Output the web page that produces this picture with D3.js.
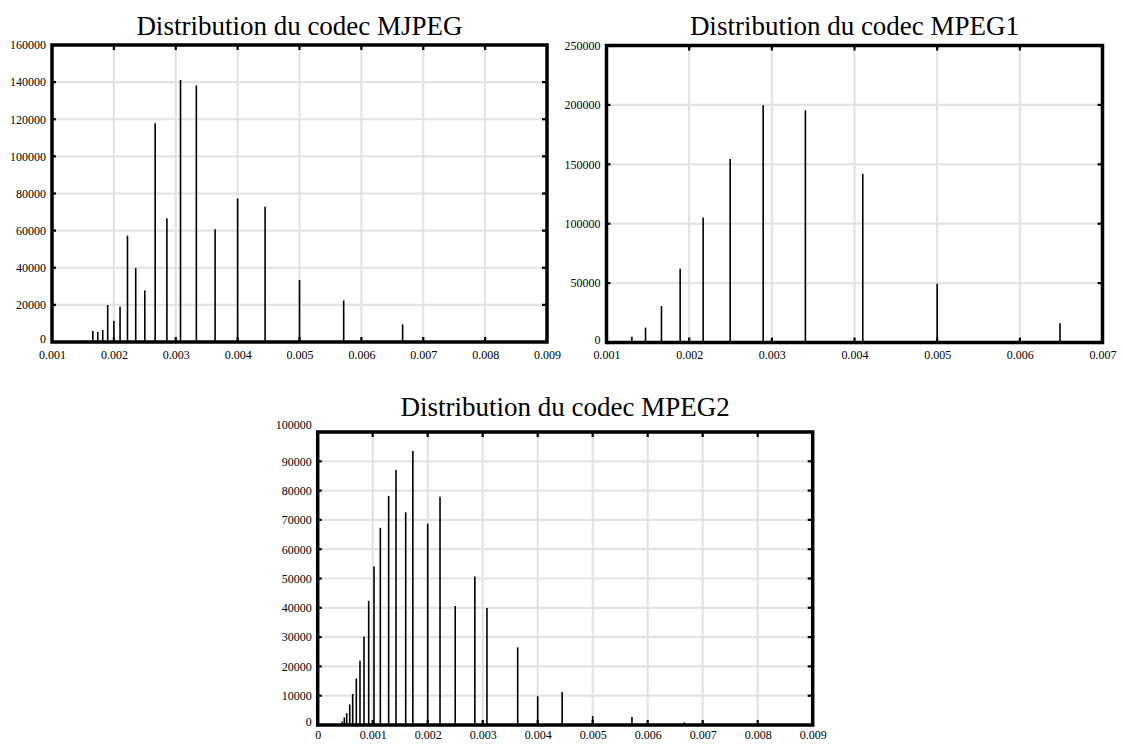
<!DOCTYPE html>
<html><head><meta charset="utf-8">
<script src="https://cdn.jsdelivr.net/npm/d3@7"></script>
<style>
body{margin:0;background:#fff}
svg{display:block}
text{font-family:"Liberation Serif","Times New Roman",serif;fill:#000}
</style>
</head><body>
<svg id="c" width="1122" height="744"></svg>
<script>
// ---------- data ----------
const titleMJPEG = "Distribution du codec MJPEG";
const titleMPEG1 = "Distribution du codec MPEG1";
const titleMPEG2 = "Distribution du codec MPEG2";

const mjpegX = [0.001538,0.00159,0.00166,0.00174,0.00182,0.0019,0.002,0.0021,0.00222,0.002353,0.0025,0.002667,0.002857,0.003077,0.003333,0.003636,0.004,0.004444,0.005,0.005714,0.006667];
const mjpegY = [900,500,5900,5400,6500,19900,11500,19000,57300,39900,27700,117800,66600,141200,138200,60800,77300,72800,33400,22400,9500];

const mpeg1X = [0.001166,0.001307,0.001472,0.001665,0.001891,0.002169,0.002496,0.002895,0.003406,0.0041,0.005,0.006486];
const mpeg1Y = [1200,4800,12500,30700,62000,105300,154500,199700,195500,141900,49400,16300];

const mpeg2X = [0.000447,0.000484,0.000527,0.000582,0.000636,0.000702,0.000769,0.000842,0.000927,0.001024,0.001139,0.00129,0.001424,0.0016,0.00173,0.002,0.002224,0.0025,0.002857,0.003077,0.003636,0.004,0.004444,0.005,0.005714,0.006667];
const mpeg2Y = [1200,2600,4000,7000,10600,15900,21900,30200,42400,54100,67300,78200,87000,72600,93500,68700,77900,40600,50700,39900,26500,9800,11300,3100,2700,900];

const mjpegXTicks = [0.001,0.002,0.003,0.004,0.005,0.006,0.007,0.008,0.009];
const mjpegYTicks = [0,20000,40000,60000,80000,100000,120000,140000,160000];
const mpeg1XTicks = [0.001,0.002,0.003,0.004,0.005,0.006,0.007];
const mpeg1YTicks = [0,50000,100000,150000,200000,250000];
const mpeg2XTicks = [0,0.001,0.002,0.003,0.004,0.005,0.006,0.007,0.008,0.009];
const mpeg2YTicks = [0,10000,20000,30000,40000,50000,60000,70000,80000,90000,100000];

// ---------- drawing ----------
const svg = d3.select("#c");
const fmtX = d => d === 0 ? "0" : d3.format(".3f")(d);

function drawChart(cfg) {
  const {left, right, top, bottom, xs, ys, xTicks, yTicks, title, titleY, topLabelDy, xLabelGap} = cfg;
  const g = svg.append("g");
  const x = d3.scaleLinear().domain([xTicks[0], xTicks[xTicks.length-1]]).range([left, right]);
  const y = d3.scaleLinear().domain([yTicks[0], yTicks[yTicks.length-1]]).range([bottom, top]);

  // grid
  g.append("g").selectAll("line").data(xTicks.slice(1, -1)).join("line")
    .attr("x1", d => x(d)).attr("x2", d => x(d)).attr("y1", top).attr("y2", bottom)
    .attr("stroke", "#e3e3e3").attr("stroke-width", 2.2);
  g.append("g").selectAll("line").data(yTicks.slice(1, -1)).join("line")
    .attr("y1", d => y(d)).attr("y2", d => y(d)).attr("x1", left).attr("x2", right)
    .attr("stroke", "#e3e3e3").attr("stroke-width", 2.2);

  // bars
  const data = xs.map((v, i) => ({x: v, y: ys[i]}));
  g.append("g").selectAll("line").data(data).join("line")
    .attr("x1", d => x(d.x)).attr("x2", d => x(d.x))
    .attr("y1", y(0)).attr("y2", d => y(d.y))
    .attr("stroke", "#000").attr("stroke-width", 1.6);

  // tick marks inside frame
  const tk = g.append("g").attr("stroke", "#000").attr("stroke-width", 2.2);
  xTicks.slice(1, -1).forEach(d => {
    tk.append("line").attr("x1", x(d)).attr("x2", x(d)).attr("y1", top).attr("y2", top + 5);
    tk.append("line").attr("x1", x(d)).attr("x2", x(d)).attr("y1", bottom - 5).attr("y2", bottom);
  });
  yTicks.slice(1, -1).forEach(d => {
    tk.append("line").attr("y1", y(d)).attr("y2", y(d)).attr("x1", right - 5).attr("x2", right);
    tk.append("line").attr("y1", y(d)).attr("y2", y(d)).attr("x1", left).attr("x2", left + 4);
  });

  // frame
  g.append("rect").attr("x", left).attr("y", top).attr("width", right - left).attr("height", bottom - top)
    .attr("fill", "none").attr("stroke", "#000").attr("stroke-width", 3.5);

  // axes labels (via d3 axes, no tick lines)
  const xa = g.append("g").attr("transform", `translate(0,${bottom + xLabelGap})`)
    .call(d3.axisBottom(x).tickValues(xTicks).tickFormat(fmtX).tickSize(0).tickPadding(4));
  xa.select(".domain").remove();
  xa.selectAll("text").attr("font-size", 12).attr("font-family", "Liberation Serif");

  const ya = g.append("g").attr("transform", `translate(${left - 2},0)`)
    .call(d3.axisLeft(y).tickValues(yTicks).tickFormat(d3.format("d")).tickSize(0).tickPadding(4));
  ya.select(".domain").remove();
  ya.selectAll("text").attr("font-size", 12).attr("font-family", "Liberation Serif");
  ya.selectAll(".tick").filter(d => d === yTicks[0]).select("text")
    .attr("transform", "translate(0,-3)");
  if (topLabelDy) {
    ya.selectAll(".tick").filter(d => d === yTicks[yTicks.length-1]).select("text")
      .attr("transform", `translate(0,${topLabelDy})`);
  }

  // title
  g.append("text").attr("x", (left + right) / 2).attr("y", titleY)
    .attr("text-anchor", "middle").attr("font-size", 27).text(title);
}

drawChart({left: 52, right: 547, top: 45, bottom: 342, xs: mjpegX, ys: mjpegY,
  xTicks: mjpegXTicks, yTicks: mjpegYTicks, title: titleMJPEG, titleY: 35, xLabelGap: 4});
drawChart({left: 606.5, right: 1102.5, top: 45.5, bottom: 342.5, xs: mpeg1X, ys: mpeg1Y,
  xTicks: mpeg1XTicks, yTicks: mpeg1YTicks, title: titleMPEG1, titleY: 35, xLabelGap: 4});
drawChart({left: 317.7, right: 812.7, top: 432, bottom: 725, xs: mpeg2X, ys: mpeg2Y,
  xTicks: mpeg2XTicks, yTicks: mpeg2YTicks, title: titleMPEG2, titleY: 416, topLabelDy: -7, xLabelGap: 1});
</script>
</body></html>
